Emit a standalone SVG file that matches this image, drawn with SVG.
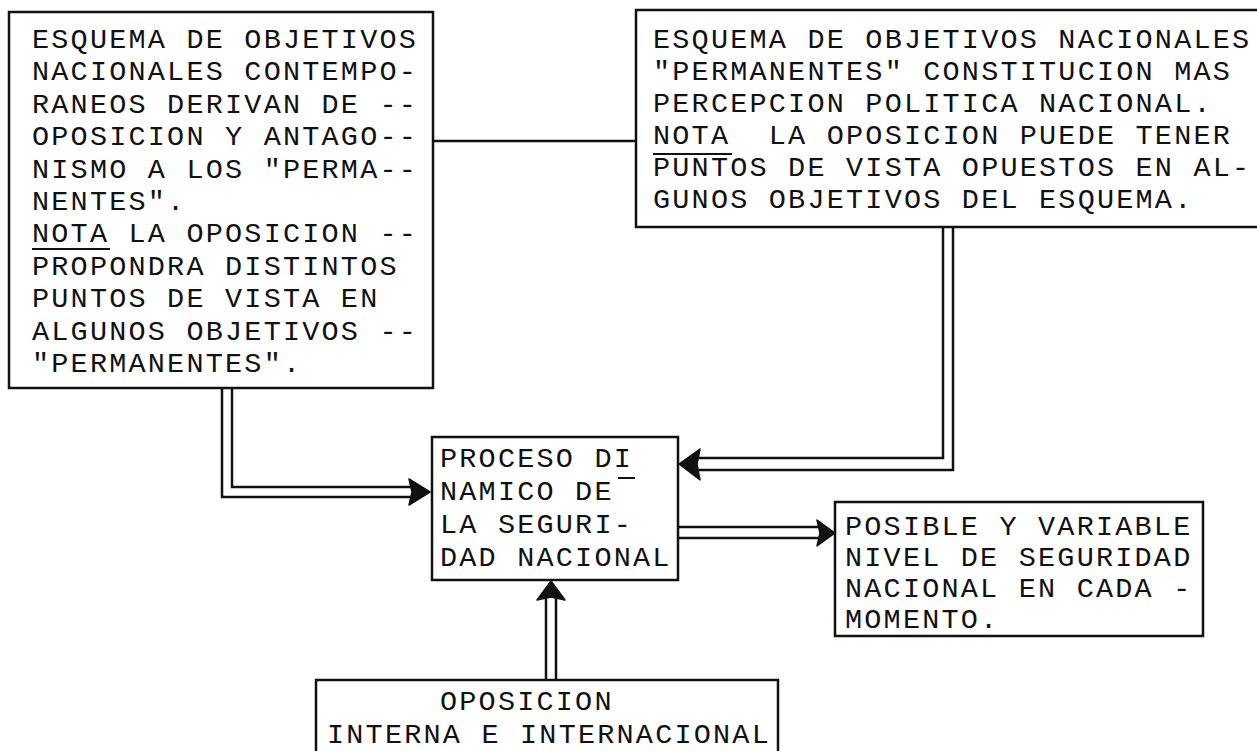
<svg xmlns="http://www.w3.org/2000/svg" width="1257" height="751" viewBox="0 0 1257 751">
<defs>
<style>
.box{fill:#fff;stroke:#111;stroke-width:2.5}
.t{font-family:"Liberation Mono","DejaVu Sans Mono",monospace;font-size:28.5px;letter-spacing:2.2px;fill:#111}
.ln{fill:none;stroke:#111;stroke-width:2.5}
.ul{stroke:#111;stroke-width:2}
.ah{fill:#111;stroke:#111;stroke-width:1.5;stroke-linejoin:round}
</style>
</defs>
<rect width="1257" height="751" fill="#fff"/>
<g id="connectors">
<line class="ln" x1="433" y1="141" x2="636" y2="141"/>
<polyline class="ln" points="222,388 222,497 412,497"/>
<polyline class="ln" points="232,388 232,487 412,487"/>
<polygon class="ah" points="430,492 409,479 412,492 409,505"/>
<polyline class="ln" points="943,227 943,458 698,458"/>
<polyline class="ln" points="953,227 953,470 698,470"/>
<polygon class="ah" points="679,464 700,449 697,464 700,480"/>
<line class="ln" x1="678" y1="527" x2="820" y2="527"/>
<line class="ln" x1="678" y1="538" x2="820" y2="538"/>
<polygon class="ah" points="835,533 817,520 820,533 817,546"/>
<line class="ln" x1="546" y1="598" x2="546" y2="680"/>
<line class="ln" x1="556" y1="598" x2="556" y2="680"/>
<polygon class="ah" points="551,581 537,600 551,597 565,600"/>
</g>
<g id="node-objetivos-contemporaneos">
<rect class="box" x="9" y="12" width="424" height="376"/>
<text class="t" x="32" y="48">ESQUEMA DE OBJETIVOS</text>
<text class="t" x="32" y="80.4">NACIONALES CONTEMPO-</text>
<text class="t" x="32" y="112.8">RANEOS DERIVAN DE --</text>
<text class="t" x="32" y="145.2">OPOSICION Y ANTAGO--</text>
<text class="t" x="32" y="177.6">NISMO A LOS "PERMA--</text>
<text class="t" x="32" y="210">NENTES".</text>
<text class="t" x="32" y="242.4">NOTA LA OPOSICION --</text>
<text class="t" x="32" y="274.8">PROPONDRA DISTINTOS</text>
<text class="t" x="32" y="307.2">PUNTOS DE VISTA EN</text>
<text class="t" x="32" y="339.6">ALGUNOS OBJETIVOS --</text>
<text class="t" x="32" y="372">"PERMANENTES".</text>
<line class="ul" x1="32" y1="249" x2="110" y2="249"/>
</g>
<g id="node-objetivos-permanentes">
<rect class="box" x="636" y="10" width="630" height="217"/>
<text class="t" x="653" y="48">ESQUEMA DE OBJETIVOS NACIONALES</text>
<text class="t" x="653" y="80">"PERMANENTES" CONSTITUCION MAS</text>
<text class="t" x="653" y="112">PERCEPCION POLITICA NACIONAL.</text>
<text class="t" x="653" y="144" xml:space="preserve">NOTA  LA OPOSICION PUEDE TENER</text>
<text class="t" x="653" y="176">PUNTOS DE VISTA OPUESTOS EN AL-</text>
<text class="t" x="653" y="208">GUNOS OBJETIVOS DEL ESQUEMA.</text>
<line class="ul" x1="653" y1="154" x2="732" y2="154"/>
</g>
<g id="node-proceso">
<rect class="box" x="432" y="437" width="246" height="143"/>
<text class="t" x="440" y="467">PROCESO DI</text>
<text class="t" x="440" y="500">NAMICO DE</text>
<text class="t" x="440" y="533">LA SEGURI-</text>
<text class="t" x="440" y="566">DAD NACIONAL</text>
<line class="ul" x1="618" y1="478" x2="635" y2="478"/>
</g>
<g id="node-nivel-seguridad">
<rect class="box" x="835" y="502" width="368" height="134"/>
<text class="t" x="845" y="535">POSIBLE Y VARIABLE</text>
<text class="t" x="845" y="566">NIVEL DE SEGURIDAD</text>
<text class="t" x="845" y="597">NACIONAL EN CADA -</text>
<text class="t" x="845" y="628">MOMENTO.</text>
</g>
<g id="node-oposicion">
<rect class="box" x="316" y="680" width="462" height="90"/>
<text class="t" x="440" y="710">OPOSICION</text>
<text class="t" x="327" y="743">INTERNA E INTERNACIONAL</text>
</g>
</svg>
